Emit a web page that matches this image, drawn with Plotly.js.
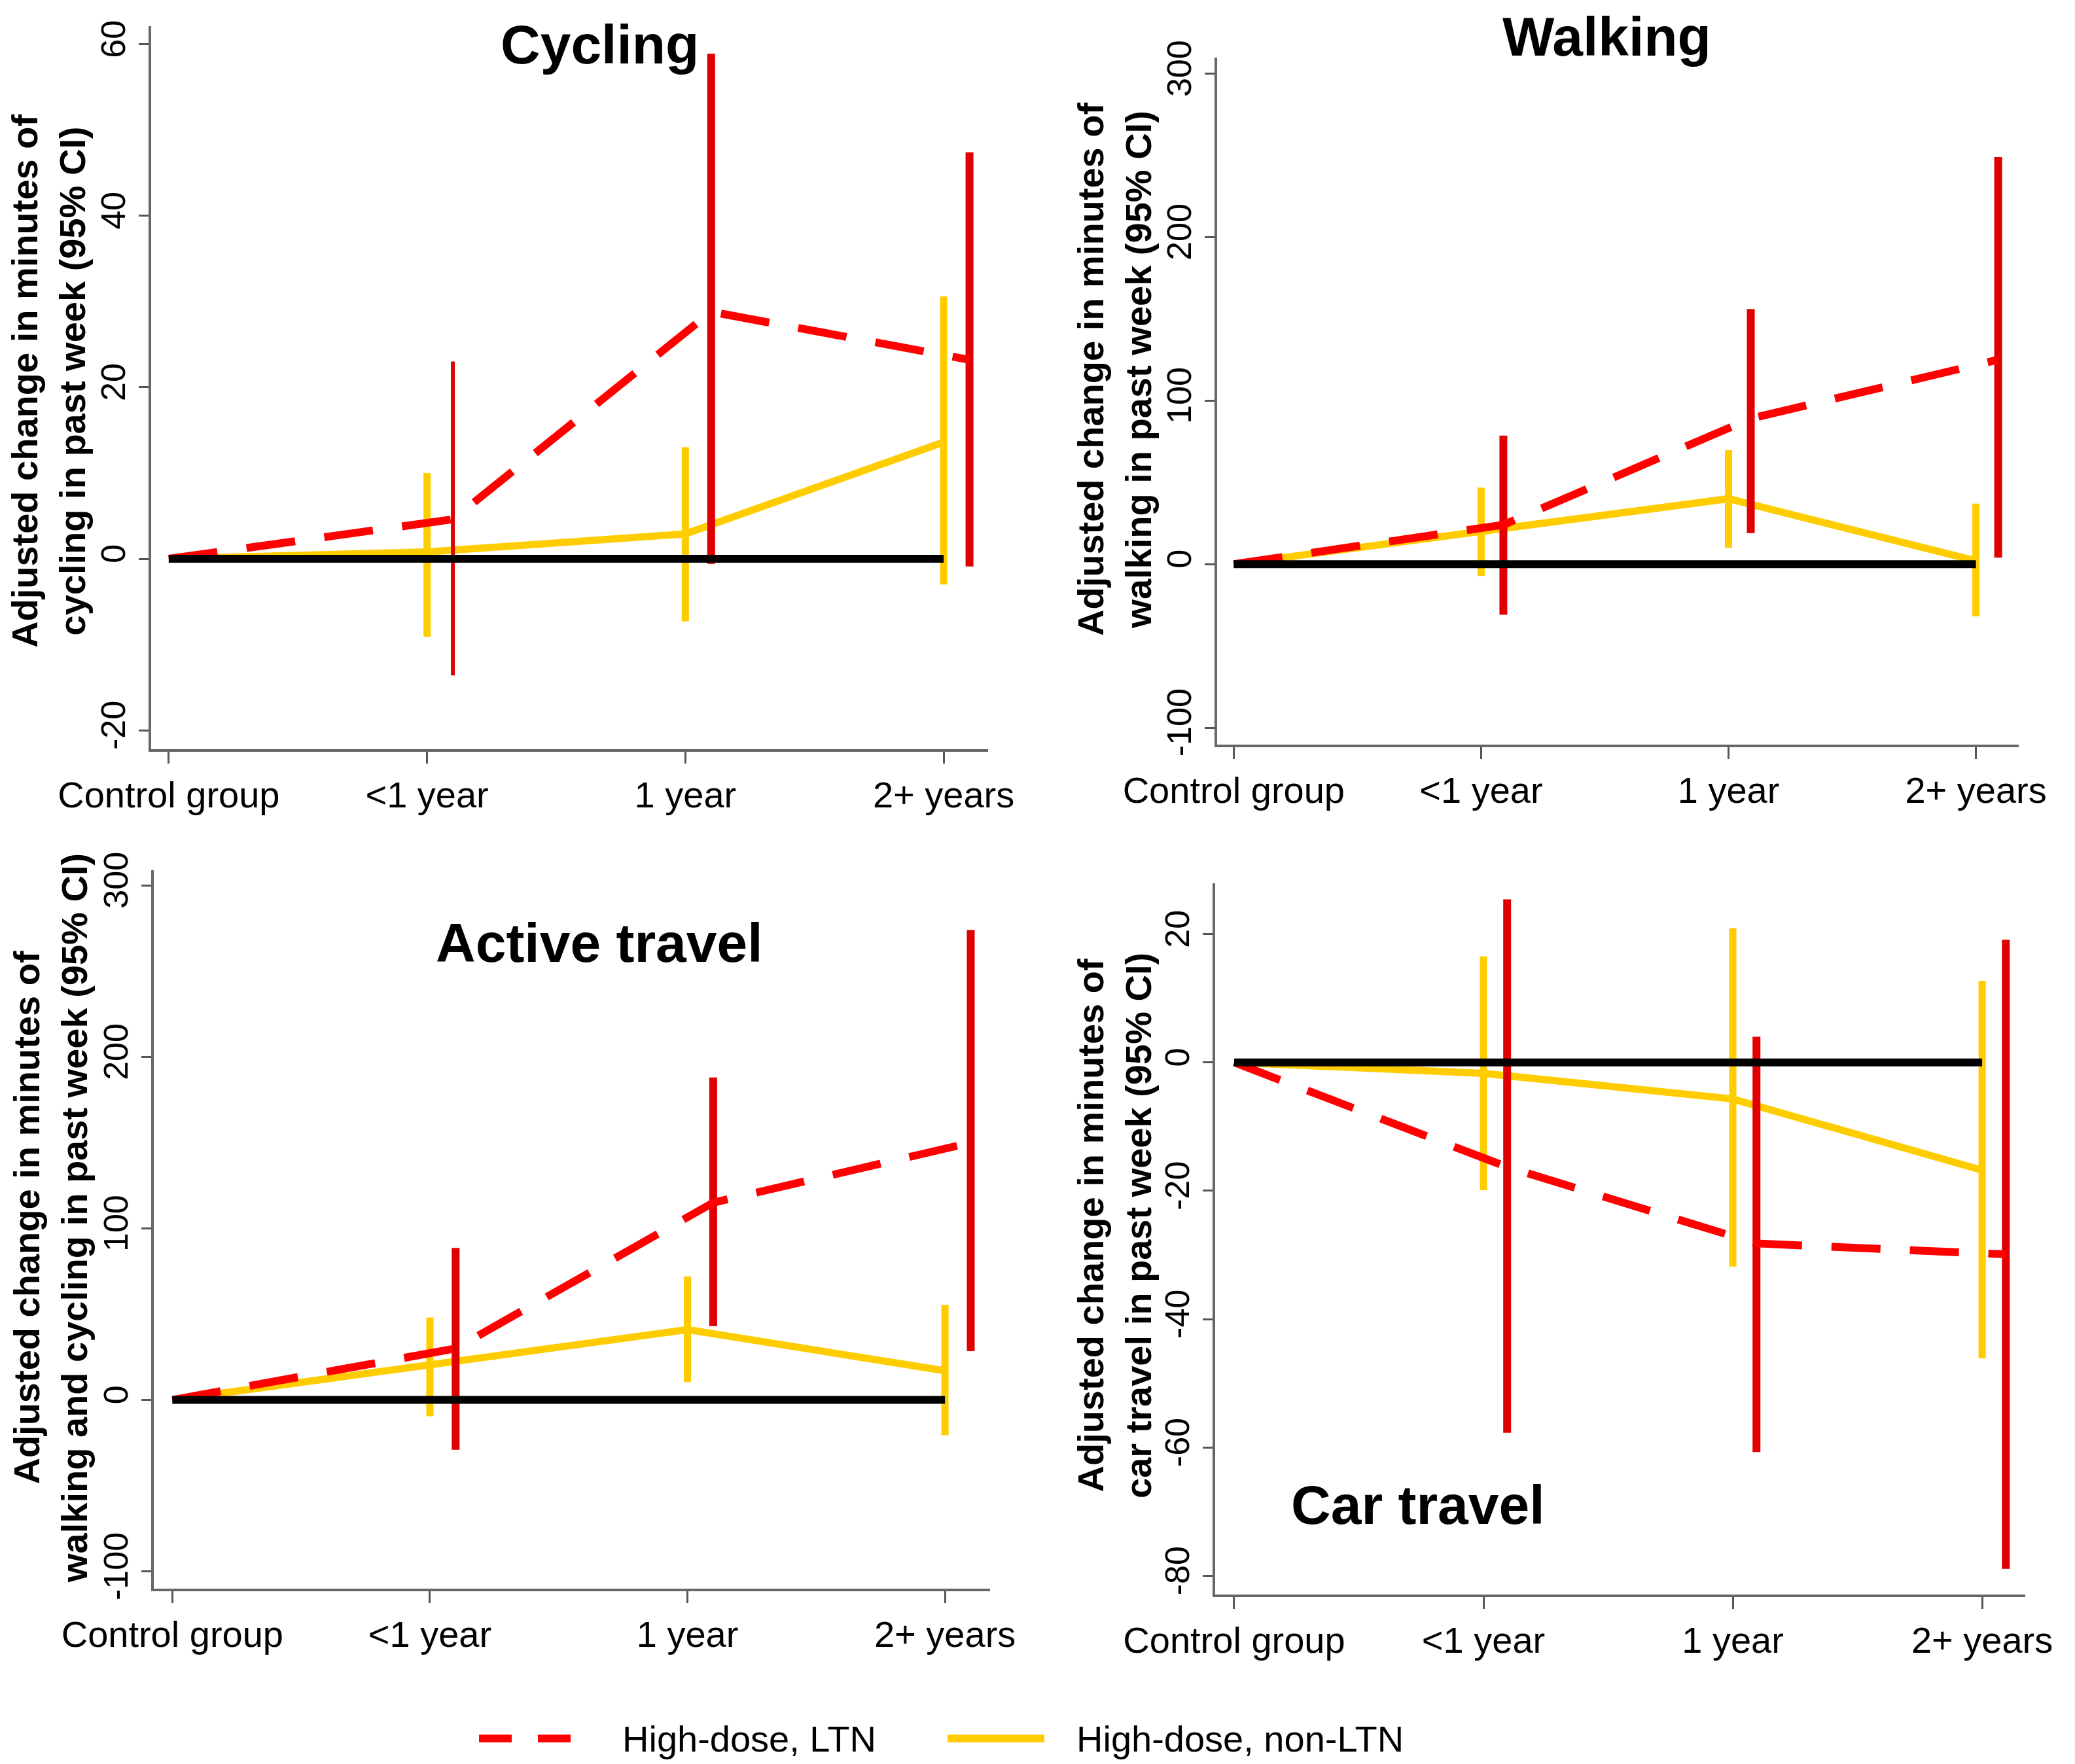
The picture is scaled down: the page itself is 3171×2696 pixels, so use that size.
<!DOCTYPE html>
<html>
<head>
<meta charset="utf-8">
<script src="https://cdn.plot.ly/plotly-3.0.1.min.js"></script>
<style>html,body{margin:0;padding:0;background:#fff}#chart{width:3171px;height:2696px}</style>
</head>
<body>
<div id="chart"></div>
<script>
// ---------- DATA ----------
const categories = ["Control group", "<1 year", "1 year", "2+ years"];
const reference = [0, 0, 0, 0];

const cycling_ltn_est = [0, 4.6, 28.8, 23.2];
const cycling_ltn_lo  = [null, -13.6, -0.6, -0.9];
const cycling_ltn_hi  = [null, 23.0, 58.9, 47.4];
const cycling_non_est = [0, 0.8, 2.9, 13.6];
const cycling_non_lo  = [null, -9.1, -7.3, -3.0];
const cycling_non_hi  = [null, 10.0, 13.0, 30.6];

const walking_ltn_est = [0, 24, 89, 125];
const walking_ltn_lo  = [null, -31, 19, 4];
const walking_ltn_hi  = [null, 78.6, 156, 249];
const walking_non_est = [0, 20, 40, 2];
const walking_non_lo  = [null, -7.3, 10, -32];
const walking_non_hi  = [null, 46.8, 69.7, 37];

const active_ltn_est = [0, 30, 115, 150];
const active_ltn_lo  = [null, -29, 43, 28.5];
const active_ltn_hi  = [null, 88.6, 188, 274];
const active_non_est = [0, 20, 41, 17];
const active_non_lo  = [null, -9.5, 10.4, -20.6];
const active_non_hi  = [null, 48, 72, 55.4];

const car_ltn_est = [0, -16.3, -28.2, -29.9];
const car_ltn_lo  = [null, -57.7, -60.7, -78.9];
const car_ltn_hi  = [null, 25.4, 4.0, 19.1];
const car_non_est = [0, -1.7, -5.7, -16.8];
const car_non_lo  = [null, -19.9, -31.8, -46.1];
const car_non_hi  = [null, 16.5, 20.9, 12.7];

const panelTitles = ["Cycling", "Walking", "Active travel", "Car travel"];
const yTitles = [
  "Adjusted change in minutes of<br>cycling in past week (95% CI)",
  "Adjusted change in minutes of<br>walking in past week (95% CI)",
  "Adjusted change in minutes of<br>walking and cycling in past week (95% CI)",
  "Adjusted change in minutes of<br>car travel in past week (95% CI)"
];
const yTickVals = [[-20, 0, 20, 40, 60], [-100, 0, 100, 200, 300], [-100, 0, 100, 200, 300], [-80, -60, -40, -20, 0, 20]];
const legendLabels = ["High-dose, LTN", "High-dose, non-LTN"];

// ---------- STYLE ----------
const W = 3171, H = 2696;
const px = v => v / W, py = v => 1 - v / H;
const RED_LINE = "#ff0000", RED_CI = "#e00000", YEL = "#ffcc00";
const FONT = "Liberation Sans, Arial, sans-serif";

const panels = [
  {data: [cycling_ltn_est, cycling_ltn_lo, cycling_ltn_hi, cycling_non_est, cycling_non_lo, cycling_non_hi],
   xdom: [231, 1510], ydom: [40, 1145], xr: [-0.068, 3.172], yr: [-22.2, 62.1], off: 0.1, redCIw: [6, 12, 12],
   title: [917, 68], ytitle: [74, 582]},
  {data: [walking_ltn_est, walking_ltn_lo, walking_ltn_hi, walking_non_est, walking_non_lo, walking_non_hi],
   xdom: [1860, 3085], ydom: [88, 1138], xr: [-0.067, 3.173], yr: [-110.4, 309.8], off: 0.09, redCIw: [12, 12, 12],
   title: [2455, 56], ytitle: [1703, 564]},
  {data: [active_ltn_est, active_ltn_lo, active_ltn_hi, active_non_est, active_non_lo, active_non_hi],
   xdom: [235, 1513], ydom: [1330, 2428], xr: [-0.072, 3.175], yr: [-110, 308.8], off: 0.1, redCIw: [12, 12, 12],
   title: [916, 1441], ytitle: [77, 1862]},
  {data: [car_ltn_est, car_ltn_lo, car_ltn_hi, car_non_est, car_non_lo, car_non_hi],
   xdom: [1857, 3095], ydom: [1350, 2437], xr: [-0.076, 3.173], yr: [-82.9, 27.9], off: 0.095, redCIw: [12, 12, 12],
   title: [2167, 2300], ytitle: [1703, 1873]}
];

const traces = [];
const layout = {
  width: W, height: H, margin: {l: 0, r: 0, t: 0, b: 0},
  paper_bgcolor: "#fff", plot_bgcolor: "#fff", showlegend: false,
  font: {family: FONT, color: "#000"},
  annotations: [], shapes: []
};

const xIdx = categories.map((c, i) => i);

panels.forEach((p, k) => {
  const n = k + 1;
  const xa = "x" + (n === 1 ? "" : n), ya = "y" + (n === 1 ? "" : n);
  const [lEst, lLo, lHi, nEst, nLo, nHi] = p.data;
  const xRed = xIdx.map(i => i === 0 ? 0 : i + p.off);

  // yellow CIs
  for (let i = 1; i < categories.length; i++) {
    traces.push({x: [xIdx[i], xIdx[i]], y: [nLo[i], nHi[i]], xaxis: xa, yaxis: ya, mode: "lines",
      line: {color: YEL, width: 11}, hoverinfo: "skip"});
  }
  // yellow line
  traces.push({x: xIdx, y: nEst, xaxis: xa, yaxis: ya, mode: "lines", name: legendLabels[1],
    line: {color: YEL, width: 11}});
  // red CIs
  for (let i = 1; i < categories.length; i++) {
    traces.push({x: [xRed[i], xRed[i]], y: [lLo[i], lHi[i]], xaxis: xa, yaxis: ya, mode: "lines",
      line: {color: RED_CI, width: p.redCIw[i - 1]}, hoverinfo: "skip"});
  }
  // red dashed line
  traces.push({x: xRed, y: lEst, xaxis: xa, yaxis: ya, mode: "lines", name: legendLabels[0],
    line: {color: RED_LINE, width: 12, dash: "75px,45px"}});
  // black reference
  traces.push({x: xIdx, y: reference, xaxis: xa, yaxis: ya, mode: "lines",
    line: {color: "#000", width: 12}, hoverinfo: "skip"});

  layout["xaxis" + (n === 1 ? "" : n)] = {
    domain: [px(p.xdom[0]), px(p.xdom[1])], range: p.xr, anchor: ya,
    tickmode: "array", tickvals: xIdx, ticktext: categories,
    showgrid: false, zeroline: false, showline: true, linecolor: "#666", linewidth: 4,
    ticks: "outside", ticklen: 18, tickwidth: 3, tickcolor: "#555",
    tickfont: {family: FONT, size: 56, color: "#000"}
  };
  layout["yaxis" + (n === 1 ? "" : n)] = {
    domain: [py(p.ydom[1]), py(p.ydom[0])], range: p.yr, anchor: xa,
    tickmode: "array", tickvals: yTickVals[k], ticktext: yTickVals[k].map(v => String(v)), tickangle: -90,
    showgrid: false, zeroline: false, showline: true, linecolor: "#666", linewidth: 4,
    ticks: "outside", ticklen: 15, tickwidth: 3, tickcolor: "#555",
    tickfont: {family: FONT, size: 52, color: "#000"}
  };

  layout.annotations.push({
    text: panelTitles[k], xref: "paper", yref: "paper", x: px(p.title[0]), y: py(p.title[1]),
    xanchor: "center", yanchor: "middle", showarrow: false,
    font: {family: FONT, size: 84, weight: "bold", color: "#000"}
  });
  layout.annotations.push({
    text: yTitles[k], xref: "paper", yref: "paper", x: px(p.ytitle[0]), y: py(p.ytitle[1]),
    xanchor: "center", yanchor: "middle", showarrow: false, textangle: -90,
    font: {family: FONT, size: 56, weight: "bold", color: "#000"}
  });
});

// legend (drawn as shapes + text)
layout.shapes.push({type: "line", xref: "paper", yref: "paper", x0: px(732), x1: px(872), y0: py(2657), y1: py(2657),
  line: {color: RED_LINE, width: 12, dash: "50px,40px"}});
layout.shapes.push({type: "line", xref: "paper", yref: "paper", x0: px(1448), x1: px(1596), y0: py(2657), y1: py(2657),
  line: {color: YEL, width: 12}});
layout.annotations.push({text: legendLabels[0], xref: "paper", yref: "paper", x: px(949), y: py(2657),
  xanchor: "left", yanchor: "middle", showarrow: false, font: {family: FONT, size: 56, color: "#000"}});
layout.annotations.push({text: legendLabels[1], xref: "paper", yref: "paper", x: px(1643), y: py(2657),
  xanchor: "left", yanchor: "middle", showarrow: false, font: {family: FONT, size: 56, color: "#000"}});

Plotly.newPlot("chart", traces, layout, {displayModeBar: false, staticPlot: true});
</script>
</body>
</html>
